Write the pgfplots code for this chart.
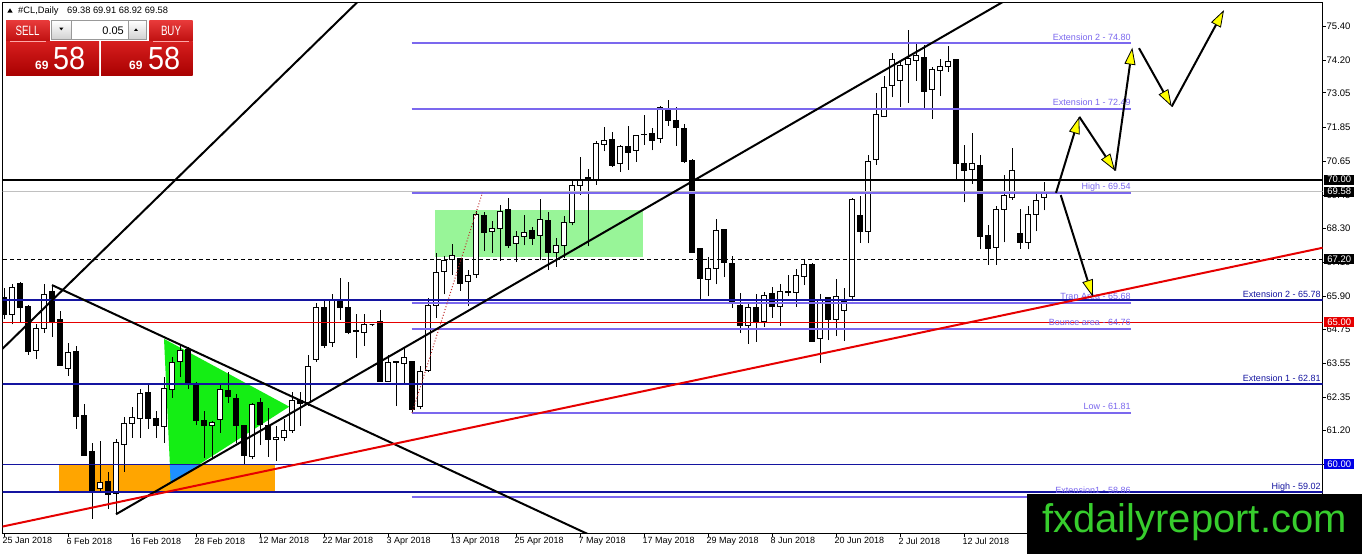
\documentclass[border=0pt]{standalone}
\usepackage{pgfplots}
\pgfplotsset{compat=1.18}
\usepackage{pgfplotstable}
\usepackage{fontspec}
\setmainfont{Liberation Sans}
\usetikzlibrary{arrows.meta}

\definecolor{fibcol}{RGB}{123,104,238}
\definecolor{navyln}{RGB}{20,20,160}
\definecolor{boxblue}{RGB}{0,0,230}
\definecolor{redln}{RGB}{230,0,0}
\definecolor{orangebox}{RGB}{255,165,0}
\definecolor{trigreen}{RGB}{20,238,20}
\definecolor{palegr}{RGB}{152,245,152}
\definecolor{overlapblue}{RGB}{30,144,255}
\definecolor{wmgreen}{RGB}{55,205,45}
\definecolor{bidgray}{RGB}{192,192,192}
\definecolor{dotred}{RGB}{190,40,40}
\definecolor{arrowyel}{RGB}{255,255,0}

% bar index, open, high, low, close (daily #CL)
\pgfplotstableread{
i o h l c
0 65.85 66.20 65.10 65.25
1 65.27 66.32 64.92 66.20
2 66.35 66.40 64.99 65.50
3 65.56 65.60 63.86 63.95
4 64.00 64.92 63.69 64.76
5 64.76 66.32 64.62 65.97
6 66.06 66.30 64.47 65.03
7 65.09 65.38 63.46 63.48
8 63.36 64.27 63.11 63.92
9 63.95 64.16 61.26 61.70
10 61.73 62.11 60.33 60.33
11 60.45 60.77 58.10 59.04
12 59.16 60.83 59.04 59.37
13 59.41 59.75 58.43 58.94
14 58.99 60.88 58.25 60.77
15 60.69 61.65 59.75 61.45
16 61.43 62.00 60.94 61.64
17 61.63 62.64 60.94 62.48
18 62.52 62.79 61.26 61.63
19 61.61 61.88 60.94 61.35
20 61.33 63.08 60.77 62.67
21 62.64 63.78 62.35 63.57
22 63.61 64.16 63.07 64.00
23 64.04 64.12 62.66 62.85
24 62.85 62.88 61.37 61.56
25 61.56 61.88 60.24 61.35
26 61.35 61.53 60.24 61.47
27 61.59 62.81 61.12 62.64
28 62.60 63.26 62.17 62.38
29 62.31 62.46 60.77 61.35
30 61.37 61.40 60.01 60.32
31 60.27 62.17 60.18 62.11
32 62.17 62.35 60.68 61.39
33 61.37 61.99 60.27 60.86
34 60.86 61.35 60.12 60.94
35 60.94 61.58 60.82 61.20
36 61.18 62.54 61.12 62.26
37 62.26 62.54 61.35 62.15
38 62.17 63.86 62.05 63.43
39 63.69 65.68 63.60 65.50
40 65.50 65.73 64.10 64.18
41 64.27 66.00 64.13 65.76
42 65.77 66.55 65.09 65.50
43 65.50 66.41 64.57 64.65
44 64.70 65.27 63.75 64.67
45 64.65 65.27 64.16 64.90
46 64.90 64.95 64.85 64.90
47 65.03 65.42 62.90 62.90
48 62.90 63.84 62.90 63.57
49 63.58 63.65 62.05 63.62
50 63.54 64.10 62.87 63.75
51 63.60 63.60 61.81 61.93
52 62.05 63.45 61.93 63.28
53 63.30 65.85 63.26 65.58
54 65.58 67.43 65.15 66.73
55 66.76 67.31 65.97 67.17
56 67.20 67.74 66.67 67.35
57 67.24 67.24 66.10 66.34
58 66.41 66.84 65.56 66.65
59 66.67 68.91 66.55 68.77
60 68.74 68.85 67.49 68.13
61 68.17 68.56 67.43 68.27
62 68.27 69.12 67.16 68.89
63 68.95 69.36 67.60 67.70
64 67.75 68.19 67.11 68.00
65 68.01 68.77 67.69 68.16
66 68.21 68.33 67.72 67.93
67 68.05 69.33 67.17 68.59
68 68.56 68.87 66.84 67.46
69 67.46 67.96 66.94 67.69
70 67.69 68.71 67.25 68.48
71 68.50 70.00 68.40 69.78
72 69.80 70.80 69.47 69.99
73 70.03 70.37 67.66 70.07
74 70.02 71.35 69.83 71.26
75 71.23 71.84 71.00 71.38
76 71.43 71.66 70.44 70.49
77 70.56 71.23 70.27 71.15
78 71.15 71.90 70.35 70.96
79 71.01 71.58 70.64 71.54
80 71.58 72.28 71.23 71.60
81 71.61 71.81 71.03 71.37
82 71.46 72.60 71.30 72.55
83 72.46 72.80 71.90 72.07
84 72.08 72.57 71.19 71.84
85 71.81 71.96 70.58 70.64
86 70.67 70.73 67.45 67.45
87 67.60 67.60 65.79 66.52
88 66.49 67.29 65.90 66.87
89 66.87 68.63 66.32 68.22
90 68.25 68.25 66.58 67.10
91 67.06 67.33 65.50 65.73
92 65.59 66.03 64.62 64.89
93 64.89 65.68 64.24 65.50
94 65.50 65.99 64.31 65.03
95 65.03 66.05 64.82 65.94
96 65.99 66.24 65.15 65.56
97 65.54 66.34 64.86 66.06
98 66.04 66.67 65.90 66.06
99 66.03 66.88 65.53 66.63
100 66.61 67.17 66.30 67.02
101 67.02 67.08 64.33 64.33
102 64.41 65.99 63.57 65.76
103 65.85 65.89 64.37 65.09
104 65.09 66.53 64.51 65.91
105 65.41 66.20 64.33 65.73
106 65.91 69.36 65.73 69.30
107 68.75 69.44 67.78 68.19
108 68.19 70.88 67.76 70.64
109 70.70 73.04 70.53 72.30
110 72.22 73.65 72.20 73.24
111 73.31 74.46 72.89 74.23
112 73.48 74.21 72.57 74.01
113 74.06 75.26 72.71 74.27
114 74.18 74.85 73.48 74.35
115 74.30 74.73 72.51 73.10
116 73.18 73.97 72.13 73.88
117 73.83 74.23 72.94 73.97
118 73.97 74.68 73.80 74.15
119 74.21 74.23 70.02 70.58
120 70.56 71.23 69.20 70.33
121 70.36 71.64 69.85 70.58
122 70.51 70.88 67.55 67.99
123 68.04 68.42 67.02 67.57
124 67.63 69.06 67.02 68.97
125 68.97 70.17 67.80 69.44
126 69.38 71.11 69.30 70.32
127 68.10 68.97 67.57 67.80
128 67.78 69.06 67.55 68.77
129 68.77 69.53 68.19 69.26
130 69.38 69.91 68.92 69.58
}\candles

\begin{document}
\begin{tikzpicture}
\useasboundingbox (0,0) rectangle (1362pt,554pt);
\fill[white] (0,0) rectangle (1362pt,554pt);
\begin{axis}[
  at={(2.5pt,20.5pt)}, anchor=south west,
  scale only axis, width=1320pt, height=531pt,
  xmin=-0.1875, xmax=164.81, ymin=57.574, ymax=76.225,
  clip mode=individual,
  axis line style={black, line width=0.8pt},
  xtick={0,8,...,120},
  xticklabels={25 Jan 2018, 6 Feb 2018, 16 Feb 2018, 28 Feb 2018, 12 Mar 2018, 22 Mar 2018, 3 Apr 2018, 13 Apr 2018, 25 Apr 2018, 7 May 2018, 17 May 2018, 29 May 2018, 8 Jun 2018, 20 Jun 2018, 2 Jul 2018, 12 Jul 2018},
  ytick={58.80,60.00,61.20,62.35,63.55,64.75,65.90,67.10,68.30,69.45,70.65,71.85,73.05,74.20,75.40},
  xtick pos=left, ytick pos=right, yticklabel pos=right,
  tick align=outside, major tick length=3pt,
  tick style={black, line width=0.8pt},
  scaled y ticks=false,
  xticklabel style={font=\fontsize{9}{10}\selectfont, anchor=north west, inner xsep=0pt, inner ysep=1pt, xshift=-1.5pt},
  yticklabel style={font=\fontsize{9.5}{11}\selectfont, inner xsep=1pt,
    /pgf/number format/.cd, fixed, fixed zerofill, precision=2, assume math mode=true},
]
% shaded zones
\addplot[draw=none, fill=palegr] coordinates {(53.9,67.27) (79.9,67.27) (79.9,68.95) (53.9,68.95)} -- cycle;
\addplot[draw=none, fill=orangebox] coordinates {(6.875,59.02) (33.875,59.02) (33.875,60.0) (6.875,60.0)} -- cycle;
\addplot[draw=none, fill=trigreen] coordinates {(20,64.41) (35.66,62.03) (20.84,59.36)} -- cycle;
\addplot[draw=none, fill=overlapblue] coordinates {(20.73,60.0) (24.5,60.0) (20.84,59.36)} -- cycle;

% candles
\pgfplotsforeachungrouped \k in {0,...,130}{%
  \pgfplotstablegetelem{\k}{o}\of\candles\let\vo\pgfplotsretval
  \pgfplotstablegetelem{\k}{h}\of\candles\let\vh\pgfplotsretval
  \pgfplotstablegetelem{\k}{l}\of\candles\let\vl\pgfplotsretval
  \pgfplotstablegetelem{\k}{c}\of\candles\let\vc\pgfplotsretval
  \pgfmathsetmacro\xa{\k-0.29}%
  \pgfmathsetmacro\xb{\k+0.29}%
  \ifdim\vc pt<\vo pt\def\bodycol{black}\else\def\bodycol{white}\fi
  \edef\cmd{%
    \noexpand\addplot[black, line width=1pt, forget plot] coordinates {(\k,\vl) (\k,\vh)};
    \noexpand\addplot[draw=black, fill=\bodycol, line width=1pt, forget plot] coordinates {(\xa,\vo) (\xb,\vo) (\xb,\vc) (\xa,\vc)} -- cycle;
  }\cmd
}

% horizontal levels
\addplot[bidgray, line width=1pt] coordinates {(-1,69.58) (166,69.58)};
\addplot[black, line width=2pt] coordinates {(-1,70) (166,70)};
\addplot[black, line width=1pt, dash pattern=on 4pt off 3pt] coordinates {(-1,67.2) (166,67.2)};
\addplot[navyln, line width=2pt] coordinates {(-1,65.78) (166,65.78)};
\addplot[redln, line width=1pt] coordinates {(-1,65) (166,65)};
\addplot[navyln, line width=2pt] coordinates {(-1,62.81) (166,62.81)};
\addplot[navyln, line width=1pt] coordinates {(-1,60) (166,60)};
\addplot[navyln, line width=2pt] coordinates {(-1,59.02) (166,59.02)};

% fibonacci levels
\addplot[fibcol, line width=1.8pt] coordinates {(50.96,74.80) (140.84,74.80)};
\addplot[fibcol, line width=1.8pt] coordinates {(50.96,72.49) (140.84,72.49)};
\addplot[fibcol, line width=1.8pt] coordinates {(50.96,69.54) (140.84,69.54)};
\addplot[fibcol, line width=1.8pt] coordinates {(50.96,65.68) (140.84,65.68)};
\addplot[fibcol, line width=1.8pt] coordinates {(50.96,64.76) (140.84,64.76)};
\addplot[fibcol, line width=1.8pt] coordinates {(50.96,61.81) (140.84,61.81)};
\addplot[fibcol, line width=1.8pt] coordinates {(50.96,58.86) (140.84,58.86)};
\addplot[dotred, line width=1pt, dotted] coordinates {(51,61.81) (59.8,69.54)};
\begin{scope}[every node/.style={anchor=base east, inner sep=0pt, yshift=3pt, text=fibcol, font=\fontsize{9}{10}\selectfont}]
\node at (axis cs:140.84,74.80) {Extension 2 - 74.80};
\node at (axis cs:140.84,72.49) {Extension 1 - 72.49};
\node at (axis cs:140.84,69.54) {High - 69.54};
\node at (axis cs:140.84,65.68) {Trap Area - 65.68};
\node at (axis cs:140.84,64.76) {Bounce area - 64.76};
\node at (axis cs:140.84,61.81) {Low - 61.81};
\node at (axis cs:140.84,58.86) {Extension1 - 58.86};
\end{scope}
\begin{scope}[every node/.style={anchor=base east, inner sep=0pt, yshift=2.5pt, text=navyln, font=\fontsize{9}{10}\selectfont}]
\node at (axis cs:164.59,65.78) {Extension 2 - 65.78};
\node at (axis cs:164.59,62.81) {Extension 1 - 62.81};
\node at (axis cs:164.59,59.02) {High - 59.02};
\end{scope}

% trend lines
\addplot[black, line width=2pt] coordinates {(-1,63.84) (46,76.74)};
\addplot[black, line width=2pt] coordinates {(6,66.30) (75,57.29)};
\addplot[black, line width=2pt] coordinates {(14,58.25) (126,76.43)};
\addplot[redln, line width=2pt] coordinates {(-1,57.77) (166,67.68)};

% projected path
\pgfplotsset{fcarrow/.style={black, line width=2pt, -{Triangle[length=17pt, width=11pt, fill=arrowyel, line width=0.8pt]}}}
\addplot[fcarrow] coordinates {(131.5,69.54) (134.41,72.21)};
\addplot[fcarrow] coordinates {(134.41,72.21) (138.875,70.32)};
\addplot[fcarrow] coordinates {(138.875,70.32) (141.04,74.64)};
\addplot[fcarrow] coordinates {(141.875,74.62) (145.96,72.57)};
\addplot[fcarrow] coordinates {(145.96,72.57) (152.5,75.96)};
\addplot[fcarrow] coordinates {(132.09,69.46) (136.09,65.89)};

% price tags on the scale
\begin{scope}[every node/.style={anchor=west, xshift=1.5pt, inner xsep=0pt, inner ysep=0pt, minimum width=30pt, minimum height=10pt, text=white, font=\fontsize{9.5}{10}\selectfont}]
\node[fill=black] at (axis cs:164.81,70) {70.00};
\node[fill=black] at (axis cs:164.81,69.58) {69.58};
\node[fill=black] at (axis cs:164.81,67.2) {67.20};
\node[fill=redln] at (axis cs:164.81,65) {65.00};
\node[fill=boxblue] at (axis cs:164.81,60) {60.00};
\end{scope}
\end{axis}

\begin{scope}[shift={(0pt,554pt)}, x=1pt, y=-1pt]
% header
\fill[black] (7.3,12.7) -- (10,8.3) -- (12.7,12.7) -- cycle;
\node[anchor=base west, inner sep=0pt, font=\fontsize{9.3}{10}\selectfont] at (18,13.5) {\#CL,Daily};
\node[anchor=base west, inner sep=0pt, font=\fontsize{9.3}{10}\selectfont] at (67,13.5) {69.38 69.91 68.92 69.58};
% one click panel
\shade[top color={rgb,255:red,232;green,58;blue,58}, bottom color={rgb,255:red,190;green,14;blue,14}] (6,20.7) rectangle (49.3,41.7);
\shade[top color={rgb,255:red,232;green,58;blue,58}, bottom color={rgb,255:red,190;green,14;blue,14}] (149.3,20.7) rectangle (192.7,41.7);
\shade[top color={rgb,255:red,214;green,30;blue,30}, bottom color={rgb,255:red,168;green,0;blue,0}] (6,41.7) rectangle (99,76);
\shade[top color={rgb,255:red,214;green,30;blue,30}, bottom color={rgb,255:red,168;green,0;blue,0}] (101,41.7) rectangle (192.7,76);
\draw[red!35!white, line width=0.6pt] (10,41.3) -- (46,41.3);
\draw[red!35!white, line width=0.6pt] (153,41.3) -- (189,41.3);
\shade[top color=white, bottom color=black!18, draw=black!40, line width=0.6pt] (51.7,20.7) rectangle (71,39.3);
\fill[white] (71,20.7) rectangle (128.3,39.3);
\draw[black!40, line width=0.6pt] (71,20.7) rectangle (128.3,39.3);
\shade[top color=white, bottom color=black!18, draw=black!40, line width=0.6pt] (128.3,20.7) rectangle (146.7,39.3);
\fill[black] (59.3,27.7) -- (63.3,27.7) -- (61.3,30.3) -- cycle;
\fill[black] (134,31) -- (138,31) -- (136,28.4) -- cycle;
\node[anchor=base east, inner sep=0pt, font=\fontsize{11}{11}\selectfont] at (124,35) {0.05};
\node[anchor=base, inner sep=0pt, text=white, font=\fontsize{13.5}{13.5}\selectfont] at (27.6,36) {\scalebox{0.72}[1]{SELL}};
\node[anchor=base, inner sep=0pt, text=white, font=\fontsize{13.5}{13.5}\selectfont] at (171,36) {\scalebox{0.72}[1]{BUY}};
\node[anchor=base west, inner sep=0pt, text=white, font=\fontsize{12}{12}\bfseries] at (35,70) {69};
\node[anchor=base west, inner sep=0pt, text=white, font=\fontsize{32}{32}\selectfont] at (53,70) {\scalebox{0.9}[1]{58}};
\node[anchor=base west, inner sep=0pt, text=white, font=\fontsize{12}{12}\bfseries] at (129,70) {69};
\node[anchor=base west, inner sep=0pt, text=white, font=\fontsize{32}{32}\selectfont] at (148,70) {\scalebox{0.9}[1]{58}};
% watermark
\fill[black] (1027,494.5) rectangle (1362,554);
\node[anchor=base west, inner sep=0pt, text=wmgreen, font=\fontsize{40}{40}\selectfont] at (1042,532) {fxdailyreport.com};
\end{scope}
\end{tikzpicture}
\end{document}
